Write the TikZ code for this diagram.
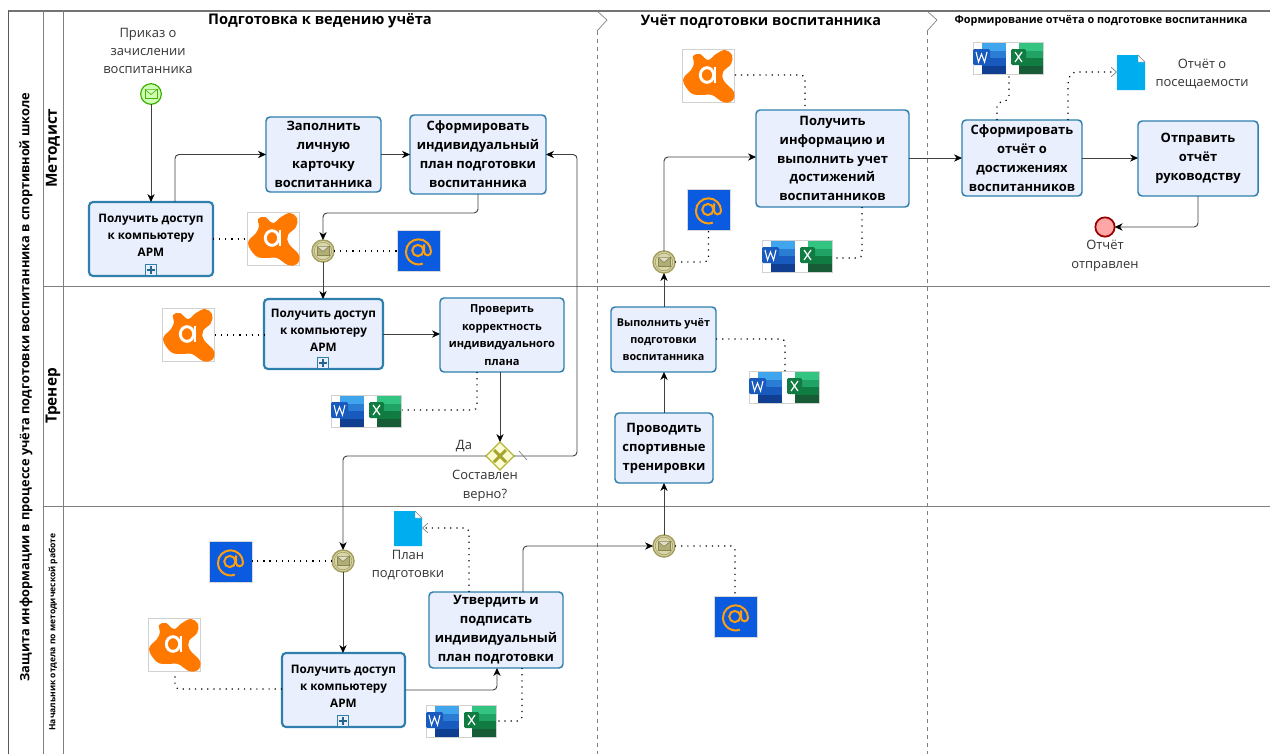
\documentclass[tikz,border=0pt]{standalone}
\usepackage{fontspec}
\setmainfont{Open Sans}
\usetikzlibrary{arrows.meta,calc,shapes.geometric}
\definecolor{taskb}{HTML}{2F7FAE}
\definecolor{taskf}{HTML}{EAEFFD}
\definecolor{lane}{HTML}{7F7F7F}
\definecolor{msgb}{HTML}{A39E5E}
\definecolor{msgf}{HTML}{DAD6AC}
\definecolor{txt}{HTML}{333333}
\definecolor{avast}{HTML}{FF7800}
\definecolor{mailbg}{HTML}{0B5BE0}
\definecolor{mailfg}{HTML}{FF9E0F}
\definecolor{docc}{HTML}{00AEEF}
\definecolor{gwb}{HTML}{B4B43C}
\definecolor{gwx}{HTML}{A6A62E}
\definecolor{gwf}{HTML}{FCFCD2}
\definecolor{wa}{HTML}{41A5EE}\definecolor{wb}{HTML}{2B7CD3}\definecolor{wc}{HTML}{185ABD}\definecolor{wd}{HTML}{103F91}
\definecolor{xa}{HTML}{33C481}\definecolor{xb}{HTML}{21A366}\definecolor{xc}{HTML}{107C41}\definecolor{xd}{HTML}{185C37}
\tikzset{
 x=0.75pt,y=-0.75pt,
 dx/.style={xshift=#1*0.75pt},
 dy/.style={yshift=-#1*0.75pt},
 tasknode/.style={draw=taskb,fill=taskf,line width=1.1pt,rounded corners=3pt,align=center,inner sep=0pt,outer sep=0pt,
   font=\bfseries\fontsize{9.7}{14.2}\selectfont,text=black,execute at begin node={\rule{0pt}{10pt}}},
 subtask/.style={tasknode,line width=1.6pt,font=\bfseries\fontsize{8.8}{12.8}\selectfont},
 smalltask/.style={tasknode,font=\bfseries\fontsize{8.3}{13.2}\selectfont},
 tinytask/.style={tasknode,font=\bfseries\fontsize{8.1}{12.4}\selectfont},
 lbl/.style={align=center,inner sep=0pt,text=txt,font=\fontsize{9.7}{13.8}\selectfont},
 flow/.style={draw=black!75,line width=0.7pt,rounded corners=3pt,-{Stealth[length=6pt,width=5.5pt,color=black]}},
 assoc/.style={draw=black,line width=0.9pt,dash pattern=on 0.9pt off 3.7pt,rounded corners=3pt},
 assocarrow/.style={assoc,-{Straight Barb[length=4pt,width=7pt,color=lane,line width=0.5pt]}},
 lanerule/.style={draw=lane,line width=0.75pt},
 phaserule/.style={draw=lane,line width=0.6pt,dashed},
 iconbox/.style={draw=black!18,fill=white,line width=0.6pt,inner sep=0pt,outer sep=0pt},
 msgev/.style={circle,draw=msgb,fill=msgf,line width=1.1pt,minimum size=16.5pt,inner sep=0pt,outer sep=0pt},
}
% task box: style, name, x1,y1,x2,y2, text
\newcommand\taskbox[7][tasknode]{%
 \pgfmathsetmacro\boxw{(#5-#3)*0.75}\pgfmathsetmacro\boxh{(#6-#4)*0.75}%
 \node[#1,minimum width=\boxw pt,minimum height=\boxh pt] (#2) at ({(#3+#5)/2},{(#4+#6)/2}) {#7};}
\newcommand\envelope[3]{%
 \begin{scope}[shift={(#1)}]
  \draw[#2,fill=#3,line width=0.5pt] (-6,-4.5) rectangle (6,4.5);
  \draw[#2,line width=0.5pt,fill=white!60!#3] (-6,-4.5) -- (0,0.5) -- (6,-4.5);
 \end{scope}}
\newcommand\msgevent[2]{%
 \node[msgev] (#1) at (#2) {};
 \draw[msgb,line width=0.45pt] (#1) circle (6.6pt);
 \envelope{#1}{msgb!85!black}{msgb!85!white}}
\newcommand\avasticon[3]{%
 \node[iconbox,minimum width=39.5pt,minimum height=40pt] (#1) at (#2+26.5,#3+27) {};
 \begin{scope}[shift={(#2,#3)}]
  \fill[avast] plot[smooth cycle,tension=0.65] coordinates {(43,1)(50,6)(49,15)(41,23)(42,32)(52,43)(50,52)(41,53)(30,46)(20,46)(9,44)(1,31)(9,21)(12,14)(11,7)(18,5)(26,11)(34,5)};
  \draw[white,line width=2.2pt] (25,26) ellipse (5pt and 5.5pt);
  \draw[white,line width=2.2pt] (33,18) -- (33,34);
 \end{scope}}
\newcommand\mailicon[3]{%
 \node[draw=black!15,fill=mailbg,minimum width=32.2pt,minimum height=30.7pt,inner sep=0pt,outer sep=0pt] (#1) at (#2+21.5,#3+20.5) {};
 \begin{scope}[shift={(#2+21.5,#3+20.5)}]
  \draw[mailfg,line width=1.5pt] (-0.5pt,0pt) circle (4.2pt);
  \draw[mailfg,line width=1.5pt] (4.2pt,4.6pt) -- (4.2pt,-1pt) arc[start angle=180,end angle=360,radius=2.6pt] arc[start angle=0,end angle=290,radius=9.4pt];
 \end{scope}}
\newcommand\officeicon[3]{%
 \node[iconbox,minimum width=53pt,minimum height=24pt] (#1) at (#2+35.5,#3+16) {};
 \begin{scope}[shift={(#2,#3)}]
  \fill[wa] (9,1) rectangle (33,8.5);
  \fill[wb] (9,8.5) rectangle (33,16);
  \fill[wc] (9,16) rectangle (33,24);
  \fill[wd] (9,24) rectangle (33,31.5);
  \fill[wc,rounded corners=1pt] (0,7) rectangle (17,23);
  \draw[white,line width=0.8pt] (3,10) -- (5.5,20) -- (8.5,12) -- (11.5,20) -- (14,10);
  \fill[xa] (46,1) rectangle (70,8.5);
  \fill[xb] (46,8.5) rectangle (70,16);
  \fill[xc] (46,16) rectangle (70,24);
  \fill[xd] (46,24) rectangle (70,31.5);
  \fill[xc,rounded corners=1pt] (38,7) rectangle (53,23);
  \draw[white,line width=0.9pt] (42,10) -- (49,20) (49,10) -- (42,20);
 \end{scope}}
\newcommand\docicon[3]{%
 \node[inner sep=0pt,outer sep=0pt,minimum width=21pt,minimum height=26.2pt] (#1) at (#2+14,#3+17.5) {};
 \fill[docc] (#2,#3) -- (#2+21,#3) -- (#2+21,#3+7) -- (#2+28,#3+7) -- (#2+28,#3+35) -- (#2,#3+35) -- cycle;
 \fill[white,draw=lane,line width=0.3pt] (#2+21,#3) -- (#2+28,#3+7) -- (#2+21,#3+7) -- cycle;}
\newcommand\submark[2]{%
 \node[draw=taskb,fill=taskf,line width=0.7pt,minimum size=8.5pt,inner sep=0pt,outer sep=0pt] (#1) at (#2) {};
 \fill[taskb!80!black] ($(#1)+(-4,-1)$) rectangle ($(#1)+(4,1)$);
 \fill[taskb!80!black] ($(#1)+(-1,-4)$) rectangle ($(#1)+(1,4)$);}
\begin{document}
\begin{tikzpicture}
\useasboundingbox (0,0) rectangle (1270,754);
\fill[white] (0,0) rectangle (1270,754);
% pool and lanes
\coordinate (tl) at (8,11); \coordinate (tr) at (1270,11);
\coordinate (bl) at (8,754);
\draw[lanerule,line width=1pt,draw=black!55] (tl) -- (tr);
\draw[lanerule,draw=black!65] (tl) -- (bl);
\draw[lanerule] (43,11) -- (43,754);
\draw[lanerule] (63,11) -- (63,754);
\draw[lanerule] (43,286) -- (1270,286);
\draw[lanerule] (43,506) -- (1270,506);
\draw[phaserule] (597,31) -- (597,754);
\draw[phaserule] (927,31) -- (927,754);
\draw[draw=lane,line width=0.5pt] (597,11) -- (607,20) -- (597,31);
\draw[draw=lane,line width=0.5pt] (927,11) -- (937,20) -- (927,31);
% titles
\node[rotate=90,inner sep=0pt,font=\bfseries\fontsize{9.6}{12}\selectfont] (pool) at (26,387) {Защита информации в процессе учёта подготовки воспитанника в спортивной школе};
\node[rotate=90,inner sep=0pt,font=\bfseries\fontsize{11.5}{14}\selectfont] (l1) at (53,148) {Методист};
\node[rotate=90,inner sep=0pt,font=\bfseries\fontsize{11.5}{14}\selectfont] (l2) at (53,396) {Тренер};
\node[rotate=90,inner sep=0pt,font=\bfseries\fontsize{6.4}{8}\selectfont] (l3) at (53,632) {Начальник отдела по методической работе};
\node[inner sep=0pt,font=\bfseries\fontsize{11}{14}\selectfont] (p1) at (320,21) {Подготовка к ведению учёта};
\node[inner sep=0pt,font=\bfseries\fontsize{10.8}{14}\selectfont] (p2) at (761,21) {Учёт подготовки воспитанника};
\node[inner sep=0pt,font=\bfseries\fontsize{8.15}{10}\selectfont] (p3) at (1101,21) {Формирование отчёта о подготовке воспитанника};
% events
\node[circle,draw=green!55!black!70!lime,fill=lime!45!green!30!white,line width=0.9pt,minimum size=15.5pt,inner sep=0pt,outer sep=0pt] (start) at (151,94) {};
\envelope{start}{green!50!black!60!lime}{lime!50!green!30!white}
\node[lbl] (tstart) at (148,51) {Приказ о\\зачислении\\воспитанника};
\node[circle,draw=red!60!black,fill=red!35!white,line width=1.3pt,minimum size=14.5pt,inner sep=0pt,outer sep=0pt] (end) at (1105,227) {};
\node[lbl] (tend) at (1105,256) {Отчёт\\отправлен};
% tasks
\taskbox[subtask]{a1}{89}{202}{213}{276}{Получить доступ\\к компьютеру\\АРМ\\[-7pt]}
\submark{m1}{151,270}
\taskbox{fill1}{266}{117}{381}{192}{Заполнить\\личную\\карточку\\воспитанника}
\taskbox{plan}{410}{115}{546}{194}{Сформировать\\индивидуальный\\план подготовки\\воспитанника}
\taskbox[subtask]{a2}{264}{299}{383}{369}{Получить доступ\\к компьютеру\\АРМ\\[-7pt]}
\submark{m2}{323,363}
\taskbox[smalltask]{check}{440}{298}{564}{372}{Проверить\\корректность\\индивидуального\\плана}
\taskbox[subtask]{a3}{282}{653}{405}{727}{Получить доступ\\к компьютеру\\АРМ\\[-7pt]}
\submark{m3}{343,721}
\taskbox{approve}{429}{592}{563}{668}{Утвердить и\\подписать\\индивидуальный\\план подготовки}
\taskbox{train}{615}{413}{713}{483}{Проводить\\спортивные\\тренировки}
\taskbox[tinytask]{log}{611}{307}{716}{372}{Выполнить учёт\\подготовки\\воспитанника}
\taskbox{acct}{756}{110}{909}{207}{Получить\\информацию и\\выполнить учет\\достижений\\воспитанников}
\taskbox{report}{962}{120}{1082}{196}{Сформировать\\отчёт о\\достижениях\\воспитанников}
\taskbox{send}{1138}{121}{1258}{196}{Отправить\\отчёт\\руководству}
% message events
\msgevent{e1}{323,251}
\msgevent{e2}{343,561}
\msgevent{e3}{664,546}
\msgevent{e4}{664,262}
% gateway
\node[diamond,draw=gwb,fill=gwf,line width=1pt,minimum size=21pt,inner sep=0pt,outer sep=0pt] (gw) at (500,456) {};
\draw[gwx,line width=2.2pt] ($(gw)+(-6,-6)$) -- ($(gw)+(6,6)$) ($(gw)+(-6,6)$) -- ($(gw)+(6,-6)$);
\node[lbl] (tyes) at (464,446) {Да};
\node[lbl] (tgw) at (485,486) {Составлен\\верно?};
% icons
\avasticon{av1}{247}{212}
\avasticon{av2}{162}{308}
\avasticon{av3}{148}{618}
\avasticon{av4}{682}{49}
\mailicon{ml1}{397}{230}
\mailicon{ml2}{209}{541}
\mailicon{ml3}{714}{596}
\mailicon{ml4}{687}{189}
\officeicon{of1}{331}{395}
\officeicon{of2}{426}{705}
\officeicon{of3}{749}{371}
\officeicon{of4}{762}{240}
\officeicon{of5}{973}{42}
\docicon{d1}{394}{511}
\node[lbl] (td1) at (408,565) {План\\подготовки};
\docicon{d2}{1117}{55}
\node[lbl] (td2) at (1202,74) {Отчёт о\\посещаемости};
% sequence flows
\draw[flow] (start) -- (a1);
\draw[flow] ([dx=24]a1.north) |- (fill1);
\draw[flow] (fill1) -- ($(plan.west|-fill1)$);
\draw[flow] ([dx=0]plan.south -| 478,0) |- (323,213) -- (e1);
\draw[flow] (e1) -- (a2.north -| e1);
\draw[flow] (a2) -- (check.west |- a2);
\draw[flow] (check.south -| gw) -- (gw);
\draw[flow] (gw.east) -- (577,456) |- (plan.east);
\draw[draw=lane,line width=0.5pt] (519,451) -- (527,460);
\draw[flow] (gw.west) -- (343,456) -- (e2);
\draw[flow] (e2) -- (a3.north -| e2);
\draw[flow] (a3.east |- 0,690) -| (approve.south -| 497,0);
\draw[flow] (approve.north -| 523,0) |- (e3);
\draw[flow] (e3) -- (train.south -| e3);
\draw[flow] (train.north -| e3) -- (log.south -| e3);
\draw[flow] (log.north -| e4) -- (e4);
\draw[flow] (e4) |- (acct.west |- 0,157);
\draw[flow] (acct.east |- 0,158) -- (report.west |- 0,158);
\draw[flow] (report.east |- 0,158) -- (send.west |- 0,158);
\draw[flow] (send.south -| 1198,0) |- (end);
% associations
\draw[assoc] (a1.east |- av1) -- (av1);
\draw[assoc] (e1) -- (ml1.west |- e1);
\draw[assoc] (av2) -- (a2.west |- av2);
\draw[assoc] (check.south -| 477,0) |- (of1.east |- 0,410);
\draw[assocarrow] (approve.north -| 469,0) |- (422,528);
\draw[assoc] (e2) -- (ml2.east |- e2);
\draw[assoc] (a3.west |- 0,689) -| (av3.south -| 175,0);
\draw[assoc] (approve.south -| 522,0) |- (of2.east |- 0,721);
\draw[assoc] (e3) -| (ml3.north -| 735,0);
\draw[assoc] (log.east |- 0,339) -| (of3.north -| 785,0);
\draw[assoc] (e4) -| (ml4.south);
\draw[assoc] (av4.east |- 0,75) -| (acct.north -| 805,0);
\draw[assoc] (acct.south -| 862,0) |- (of4.east |- 0,258);
\draw[assoc] (report.north -| 997,0) -- (997,103) -- (1009,100) -- (of5.south -| 1009,0);
\draw[assocarrow] (report.north -| 1068,0) -- (1068,80) -- (1072,72) -- (1117,72);
\end{tikzpicture}
\end{document}
